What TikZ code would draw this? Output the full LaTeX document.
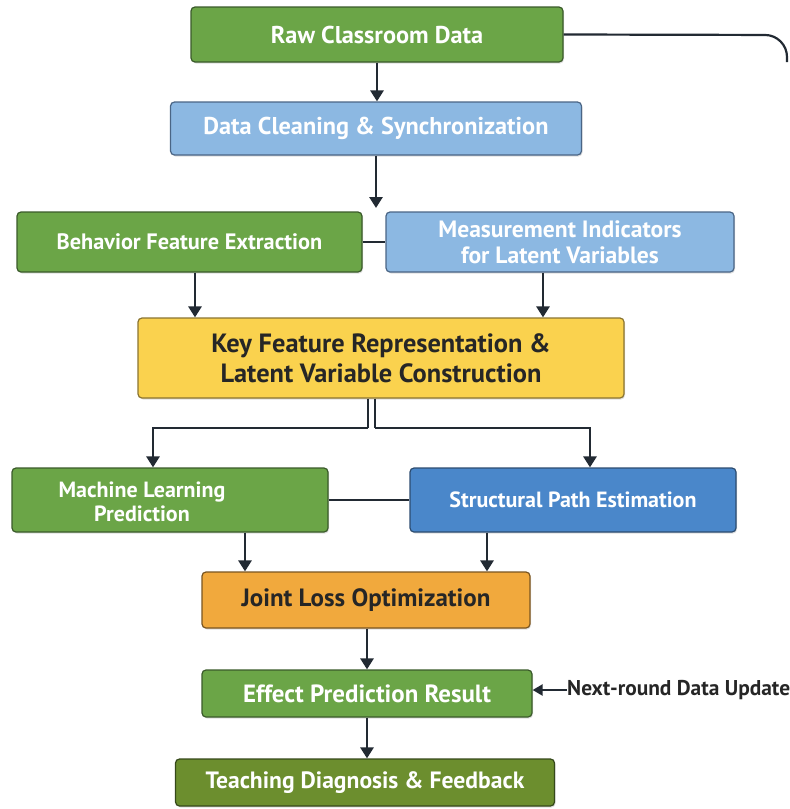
\documentclass[tikz,border=0pt]{standalone}
\usepackage{fontspec}
\setmainfont{PT Sans}
\usetikzlibrary{arrows.meta,shadows}
\definecolor{cgreen}{HTML}{6BA547}
\definecolor{cgreenb}{HTML}{3A5A2A}
\definecolor{clblue}{HTML}{8CB8E2}
\definecolor{clblueb}{HTML}{4A6585}
\definecolor{cblue}{HTML}{4A87CA}
\definecolor{cblueb}{HTML}{2C4C70}
\definecolor{cyellow}{HTML}{FAD24E}
\definecolor{cyellowb}{HTML}{8A7430}
\definecolor{corange}{HTML}{F1A93D}
\definecolor{corangeb}{HTML}{7A5520}
\definecolor{colive}{HTML}{6C8E2E}
\definecolor{coliveb}{HTML}{35481A}
\definecolor{cline}{HTML}{222A33}
\newcommand{\fsz}[1]{\fontsize{#1}{#1}\selectfont\bfseries}
\tikzset{
  box/.style={draw=#1b, fill=#1, rounded corners=4pt, line width=1.2pt, text=white,
     font=\fsz{22}, align=center, inner sep=0pt,
     drop shadow={shadow xshift=1pt, shadow yshift=-1.5pt, opacity=0.25}},
  darkbox/.style={box=#1, text=black!85},
  conn/.style={draw=cline, line width=2.8pt},
  arr/.style={conn, -{Triangle[width=13pt,length=11pt]}},
}
\begin{document}
\begin{tikzpicture}[x=1pt,y=-1pt]
\useasboundingbox (0,0) rectangle (790,809);
\node[box=cgreen, minimum width=372pt, minimum height=55pt, font=\fsz{24.3}] (raw) at (377,34.5) {Raw Classroom Data};
\node[box=clblue, minimum width=411pt, minimum height=53pt, font=\fsz{24.3}] (clean) at (376,128.5) {Data Cleaning \& Synchronization};
\node[box=cgreen, minimum width=345pt, minimum height=60pt, font=\fsz{22.3}] (beh) at (189.5,242) {Behavior Feature Extraction};
\node[box=clblue, minimum width=348pt, minimum height=60pt, font=\fontsize{23.6}{26}\selectfont\bfseries] (meas) at (560,242) {Measurement Indicators\\for Latent Variables};
\node[darkbox=cyellow, minimum width=486pt, minimum height=80pt, font=\fontsize{26.4}{30}\selectfont\bfseries] (key) at (381,358) {Key Feature Representation \&\\Latent Variable Construction};
\node[box=cgreen, minimum width=316pt, minimum height=64pt] (ml) at (170,500) {};
\node[text=white, font=\fontsize{22}{24}\selectfont\bfseries, align=center] (mlt) at (142,502) {Machine Learning\\Prediction};
\node[box=cblue, minimum width=326pt, minimum height=64pt] (sp) at (573,500) {Structural Path Estimation};
\node[darkbox=corange, minimum width=328pt, minimum height=56pt, font=\fsz{25}] (joint) at (366,600) {Joint Loss Optimization};
\node[box=cgreen, minimum width=330pt, minimum height=47pt, font=\fsz{24.9}] (eff) at (367,693.5) {Effect Prediction Result};
\node[box=colive, minimum width=379pt, minimum height=47pt, font=\fsz{23.6}] (teach) at (365,782.5) {Teaching Diagnosis \& Feedback};
\node[anchor=west, font=\fsz{21.4}, text=black!85, inner sep=0pt] (next) at (567,690) {Next-round Data Update};
% connectors
\coordinate (rc) at (787,62);
\draw[conn, line width=2.2pt, rounded corners=22pt] (raw.east) -- (787,35) -- (rc);
\draw[arr] (raw.south -| 377,0) -- (clean.north -| 377,0);
\coordinate (split) at (376,208);
\draw[arr] (clean.south -| 376,0) -- (split);
\draw[conn] (beh.east) -- (meas.west |- beh.east);
\draw[arr] (beh.south -| 195,0) -- (key.north -| 195,0);
\draw[arr] (meas.south -| 543,0) -- (key.north -| 543,0);
\coordinate (dl) at (368,428);
\coordinate (dr) at (375,428);
\draw[draw=cline, line width=1.6pt] (key.south -| 368,0) -- (dl);
\draw[draw=cline, line width=1.6pt] (key.south -| 375,0) -- (dr);
\draw[arr] (dl) -- (153,428) -- (ml.north -| 153,0);
\draw[arr] (dr) -- (590,428) -- (sp.north -| 590,0);
\draw[conn] (ml.east) -- (sp.west);
\draw[arr] (ml.south -| 245,0) -- (joint.north -| 245,0);
\draw[arr] (sp.south -| 487,0) -- (joint.north -| 487,0);
\draw[arr] (joint.south -| 367,0) -- (eff.north -| 367,0);
\draw[arr] (eff.south -| 367,0) -- (teach.north -| 367,0);
\draw[conn, line width=2.2pt, -{Triangle[width=11pt,length=10pt]}] (next.west) -- (eff.east |- next.west);
\end{tikzpicture}
\end{document}
